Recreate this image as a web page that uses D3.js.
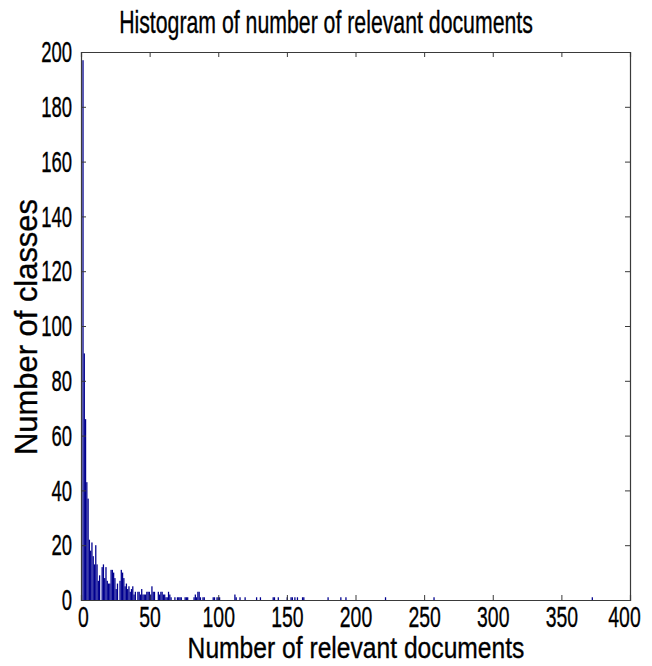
<!DOCTYPE html>
<html>
<head>
<meta charset="utf-8">
<script src="https://cdn.jsdelivr.net/npm/d3@7"></script>
<style>
  html, body { margin: 0; padding: 0; background: #fff; }
  svg { display: block; }
  text { font-family: "Liberation Sans", Arial, sans-serif; fill: #000; stroke: #000; stroke-width: 0.35px; }
</style>
</head>
<body>
<svg id="chart" width="652" height="666"></svg>
<script>
// Number of classes having a given number of relevant documents
const docValues = [
  1, 2, 3, 4, 5, 6, 7, 8, 9, 10, 11, 12, 13, 14, 15, 16, 17, 18, 19, 20,
  21, 22, 23, 24, 25, 26, 27, 28, 29, 30, 31, 32, 33, 34, 35, 36, 37, 38, 39, 40,
  41, 42, 43, 44, 45, 46, 47, 48, 49, 50, 51, 52, 53, 54, 56, 57, 58, 59, 60,
  61, 62, 63, 64, 65, 66, 68, 70, 71, 72, 73, 76, 77, 78, 82, 83, 84, 85, 86,
  87, 89, 90, 96, 97, 99, 100, 101, 112, 113, 116, 120, 128, 131, 140, 141,
  144, 150, 153, 154, 156, 158, 161, 162, 180, 189, 193, 222, 257, 373
];
const classCounts = [
  197, 90, 66, 43, 37, 22, 18, 21, 16, 13, 20, 13, 7, 9, 12, 13, 8, 12, 7, 6,
  6, 11, 11, 10, 8, 4, 6, 7, 11, 10, 8, 5, 6, 4, 5, 3, 4, 5, 2, 3,
  3, 3, 2, 4, 2, 2, 2, 3, 3, 3, 2, 5, 3, 3, 3, 2, 3, 3, 2,
  2, 1, 1, 3, 2, 1, 1, 1, 1, 1, 1, 1, 1, 1, 1, 2, 1, 3, 3,
  1, 1, 1, 1, 1, 1, 1, 1, 2, 1, 1, 1, 1, 1, 1, 1,
  1, 1, 1, 1, 1, 1, 1, 1, 1, 1, 1, 1, 1, 1
];
const xTicks = [0, 50, 100, 150, 200, 250, 300, 350, 400];
const yTicks = [0, 20, 40, 60, 80, 100, 120, 140, 160, 180, 200];
const binCount = 400;

const titleText = "Histogram of number of relevant documents";
const xLabelText = "Number of relevant documents";
const yLabelText = "Number of classes";

const svg = d3.select("#chart");
const plotLeft = 81, plotRight = 630, plotTop = 52, plotBottom = 600;

const x = d3.scaleLinear().domain([0, 400]).range([plotLeft, plotRight]);
const y = d3.scaleLinear().domain([0, 200]).range([plotBottom, plotTop]);

// 400 equal-width bins between the smallest and largest value
const vMin = d3.min(docValues), vMax = d3.max(docValues);
const binW = (vMax - vMin) / binCount;
const bins = d3.range(binCount).map(k => ({ x0: vMin + k * binW, x1: vMin + (k + 1) * binW, n: 0 }));
docValues.forEach((v, i) => {
  const k = Math.min(binCount - 1, Math.floor((v - vMin) / binW));
  bins[k].n += classCounts[i];
});

// Bars
svg.append("g")
  .selectAll("rect")
  .data(bins.filter(b => b.n > 0))
  .join("rect")
  .attr("x", d => x(d.x0))
  .attr("width", d => Math.max(0.6, x(d.x1) - x(d.x0)))
  .attr("y", d => y(d.n))
  .attr("height", d => y(0) - y(d.n))
  .attr("fill", "#00008f");

const tickLen = 5;
const axisColor = "#3a3a3a";

// Axes with inward ticks, mirrored on top and right
const gx = svg.append("g").attr("transform", `translate(0,${plotBottom})`)
  .call(d3.axisBottom(x).tickValues(xTicks).tickSize(-tickLen).tickPadding(6).tickFormat(d3.format("d")));
const gxTop = svg.append("g").attr("transform", `translate(0,${plotTop})`)
  .call(d3.axisTop(x).tickValues(xTicks).tickSize(-tickLen).tickFormat(""));
const gy = svg.append("g").attr("transform", `translate(${plotLeft},0)`)
  .call(d3.axisLeft(y).tickValues(yTicks).tickSize(-tickLen).tickPadding(9).tickFormat(d3.format("d")));
const gyRight = svg.append("g").attr("transform", `translate(${plotRight},0)`)
  .call(d3.axisRight(y).tickValues(yTicks).tickSize(-tickLen).tickFormat(""));

[gx, gxTop, gy, gyRight].forEach(g => {
  g.select(".domain").attr("stroke", axisColor).attr("stroke-width", 1.2);
  g.selectAll(".tick line").attr("stroke", axisColor).attr("stroke-width", 1);
});

// Horizontally condense a text so that it spans the given width
function condense(sel, width) {
  const w = sel.node().getComputedTextLength();
  return w > 0 ? width / w : 1;
}

// Tick labels: tall, condensed sans
gx.selectAll(".tick text")
  .attr("font-size", 30).attr("fill", "#000")
  .attr("font-family", "Liberation Sans, Arial, sans-serif")
  .attr("dy", "0.71em")
  .each(function (d) {
    const t = d3.select(this);
    const s = condense(t, t.text().length * 10.8);
    const shift = d === 400 ? -6 : (d === 0 ? 2 : 0);
    t.attr("x", shift / s).attr("transform", `scale(${s},1)`);
  });
gy.selectAll(".tick text")
  .attr("font-size", 30).attr("fill", "#000")
  .attr("font-family", "Liberation Sans, Arial, sans-serif")
  .each(function () {
    const t = d3.select(this);
    const s = condense(t, t.text().length * 10.3);
    t.attr("x", -9 / s).attr("transform", `scale(${s},1)`);
  });

// Title
const title = svg.append("text")
  .attr("text-anchor", "middle")
  .attr("font-size", 32)
  .text(titleText);
title.attr("transform", `translate(326,33) scale(${condense(title, 414)},1)`);

// X axis label
const xLabel = svg.append("text")
  .attr("text-anchor", "middle")
  .attr("font-size", 30)
  .text(xLabelText);
xLabel.attr("transform", `translate(356,658) scale(${condense(xLabel, 337)},1)`);

// Y axis label
const yLabel = svg.append("text")
  .attr("text-anchor", "middle")
  .attr("font-size", 32)
  .text(yLabelText);
yLabel.attr("transform", `translate(37,327) rotate(-90) scale(${condense(yLabel, 256)},1)`);
</script>
</body>
</html>
